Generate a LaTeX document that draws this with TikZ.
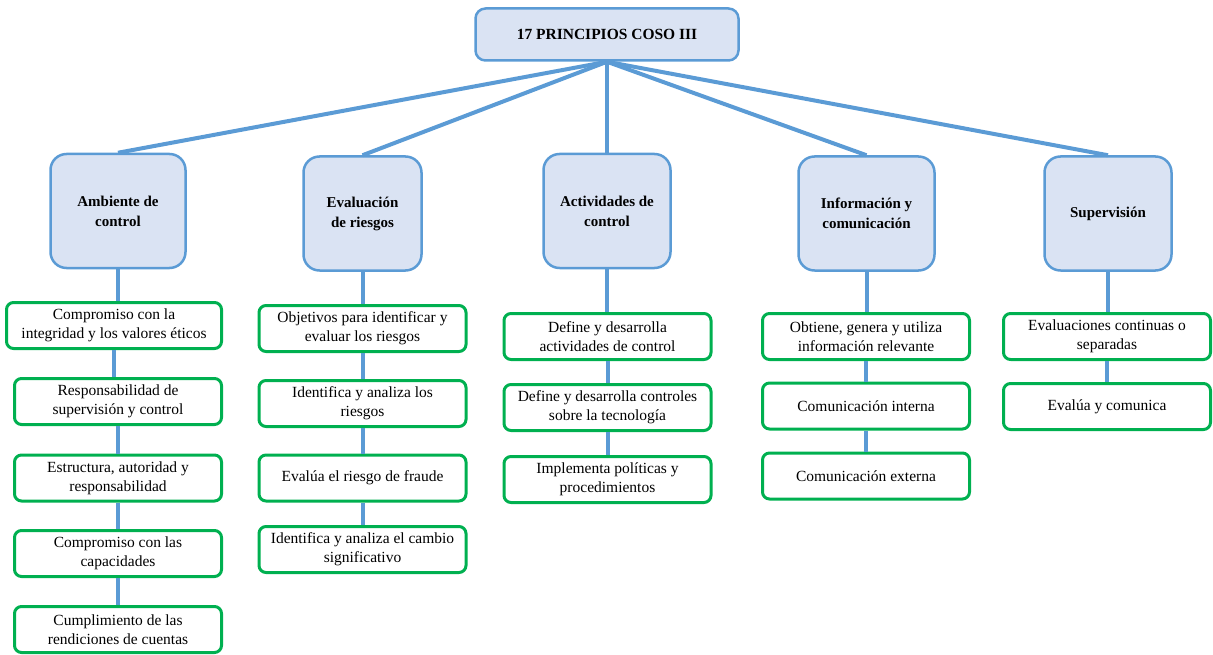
\documentclass[tikz,border=0pt]{standalone}
\usepackage{fontspec}
\setmainfont{Liberation Serif}
\definecolor{azul}{HTML}{5B9BD5}
\definecolor{celeste}{HTML}{DAE3F3}
\definecolor{verde}{HTML}{00B050}
\tikzset{
	titulo/.style={draw=azul, fill=celeste, line width=2.5pt, rounded corners=10pt, minimum width=263pt, minimum height=52pt, font=\fontsize{15.5}{19}\selectfont\bfseries},
	cat/.style={draw=azul, fill=celeste, line width=2.5pt, rounded corners=16pt, minimum width=135pt, minimum height=114pt, align=center, font=\fontsize{15}{20}\selectfont\bfseries},
	caja/.style={draw=verde, line width=3pt, rounded corners=7pt, minimum width=207pt, minimum height=46pt, align=center, inner sep=2pt},
	linea/.style={draw=azul, line width=4pt}
}
\begin{document}
\begin{tikzpicture}[x=1pt, y=-1pt, font=\fontsize{15.5}{19}\selectfont, line join=round]
		\useasboundingbox (0,0) rectangle (1213,655);
		\node[titulo] (P) at (607,34.5) {17 PRINCIPIOS COSO III};
		%componentes
		\node[cat] (A) at (118,211) {Ambiente de\\control};
		\node[cat, minimum width=118pt] (B) at (362.5,213.5) {Evaluación\\de riesgos};
		\node[cat, minimum width=127pt] (C) at (607,211) {Actividades de\\control};
		\node[cat, minimum width=136pt] (D) at (866.5,213.5) {Información y\\comunicación};
		\node[cat, minimum width=127pt] (E) at (1108,213.5) {Supervisión};
		%principios
		\node[caja, minimum width=215pt] (A1) at (114,325.5) {Compromiso con la\\integridad y los valores éticos};
		\node[caja, minimum width=207pt] (A2) at (118,401.5) {Responsabilidad de\\supervisión y control};
		\node[caja, minimum width=207pt] (A3) at (118,478) {Estructura, autoridad y\\responsabilidad};
		\node[caja, minimum width=207pt] (A4) at (118,553.5) {Compromiso con las\\capacidades};
		\node[caja, minimum width=207pt] (A5) at (118,629.5) {Cumplimiento de las\\rendiciones de cuentas};
		\node[caja] (B1) at (362.5,328.5) {Objetivos para identificar y\\evaluar los riesgos};
		\node[caja] (B2) at (362.5,403.5) {Identifica y analiza los\\riesgos};
		\node[caja] (B3) at (362.5,478) {Evalúa el riesgo de fraude};
		\node[caja] (B4) at (362.5,549.5) {Identifica y analiza el cambio\\significativo};
		\node[caja] (C1) at (607.5,336.5) {Define y desarrolla\\actividades de control};
		\node[caja] (C2) at (607.5,407.5) {Define y desarrolla controles\\sobre la tecnología};
		\node[caja] (C3) at (607.5,479.5) {Implementa políticas y\\procedimientos};
		\node[caja] (D1) at (866,336.5) {Obtiene, genera y utiliza\\información relevante};
		\node[caja] (D2) at (866,406) {Comunicación interna};
		\node[caja] (D3) at (866,476) {Comunicación externa};
		\node[caja] (E1) at (1107,336.5) {Evaluaciones continuas o\\separadas};
		\node[caja] (E2) at (1107,406.5) {Evalúa y comunica};
		%conectores
		\foreach \x in {A,B,C,D,E} \draw[linea] (P.south)--(\x.north);
		\foreach \x/\y in {A/A1,A1/A2,A2/A3,A3/A4,A4/A5,B/B1,B1/B2,B2/B3,B3/B4,C/C1,C1/C2,C2/C3,D/D1,D1/D2,D2/D3,E/E1,E1/E2}
		\draw[linea] (\x.south)--(\x.south|-\y.north);
\end{tikzpicture}
\end{document}
